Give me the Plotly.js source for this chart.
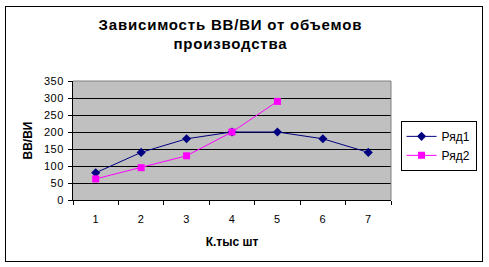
<!DOCTYPE html>
<html>
<head>
<meta charset="utf-8">
<script src="https://cdn.plot.ly/plotly-3.0.1.min.js"></script>
<style>
html, body { margin: 0; padding: 0; background: #fff; }
#wrap { position: relative; width: 489px; height: 267px; }
#chart { position: absolute; left: 0; top: 0; width: 489px; height: 267px; }
#frame { position: absolute; left: 5px; top: 6px; width: 476px; height: 254px; border: 1px solid #000; pointer-events: none; }
#chart .gtitle { letter-spacing: 0.8px; }
#chart .xtick text, #chart .ytick text { letter-spacing: 0.5px; }
</style>
</head>
<body>
<div id="wrap">
<div id="chart"></div>
<div id="frame"></div>
</div>
<script>
var categories = ['1', '2', '3', '4', '5', '6', '7'];
var series1Name = 'Ряд1';
var series1 = [80, 140, 180, 200, 200, 180, 140];
var series2Name = 'Ряд2';
var series2 = [62, 95, 130, 200, 290];
var yTicks = [0, 50, 100, 150, 200, 250, 300, 350];
var chartTitle = 'Зависимость ВВ/ВИ от объемов<br>производства';
var xTitle = 'К.тыс шт';
var yTitle = 'ВВ/ВИ';

var FONT = 'Liberation Sans, Arial, sans-serif';

var traces = [
  {
    x: categories, y: series1, name: series1Name, type: 'scatter', mode: 'lines+markers',
    line: { color: '#000080', width: 1 },
    marker: { symbol: 'diamond', size: 7, color: '#000080' }
  },
  {
    x: categories.slice(0, series2.length), y: series2, name: series2Name, type: 'scatter', mode: 'lines+markers',
    line: { color: '#FF00FF', width: 1 },
    marker: { symbol: 'square', size: 7, color: '#FF00FF' }
  }
];

var layout = {
  width: 489, height: 267,
  margin: { l: 73, r: 90, t: 81, b: 67, pad: 0 },
  paper_bgcolor: 'rgba(0,0,0,0)',
  plot_bgcolor: '#C0C0C0',
  font: { family: FONT, size: 11, color: '#000' },
  title: {
    text: chartTitle,
    font: { family: FONT, size: 15, color: '#000', weight: 'bold' },
    x: 0.495, xanchor: 'center', xref: 'paper',
    yref: 'container', y: 0.888, yanchor: 'middle'
  },
  xaxis: {
    type: 'category',
    categoryorder: 'array', categoryarray: categories,
    range: [-0.5, 6.5],
    tickson: 'boundaries',
    ticks: 'outside', ticklen: 4, tickcolor: '#000', tickwidth: 1,
    ticklabelstandoff: 9,
    showline: true, linecolor: '#000', linewidth: 1,
    showgrid: false, zeroline: false,
    tickfont: { family: FONT, size: 11, color: '#000' },
    title: { text: xTitle, font: { family: FONT, size: 12, color: '#000', weight: 'bold' }, standoff: 13 }
  },
  yaxis: {
    range: [0, 350],
    tickvals: yTicks,
    ticks: 'outside', ticklen: 4, tickcolor: '#000', tickwidth: 1,
    ticklabelstandoff: 2,
    showline: true, linecolor: '#000', linewidth: 1,
    showgrid: true, gridcolor: '#000', gridwidth: 1,
    zeroline: false,
    tickfont: { family: FONT, size: 11, color: '#000' },
    title: { text: yTitle, font: { family: FONT, size: 12, color: '#000', weight: 'bold' }, standoff: 10 }
  },
  legend: {
    x: 1.03, xanchor: 'left', xref: 'paper',
    y: 0.665, yanchor: 'top',
    bgcolor: '#fff', bordercolor: '#000', borderwidth: 1,
    font: { family: FONT, size: 12, color: '#000' },
    tracegroupgap: 0, itemwidth: 30
  },
  shapes: [
    { type: 'line', xref: 'paper', yref: 'paper', x0: 0, x1: 1, y0: 1, y1: 1, line: { color: '#808080', width: 1 }, layer: 'above' },
    { type: 'line', xref: 'paper', yref: 'paper', x0: 1, x1: 1, y0: 0, y1: 1, line: { color: '#808080', width: 1 }, layer: 'above' }
  ],
  showlegend: true
};

Plotly.newPlot('chart', traces, layout, { staticPlot: true, displayModeBar: false });
</script>
</body>
</html>
